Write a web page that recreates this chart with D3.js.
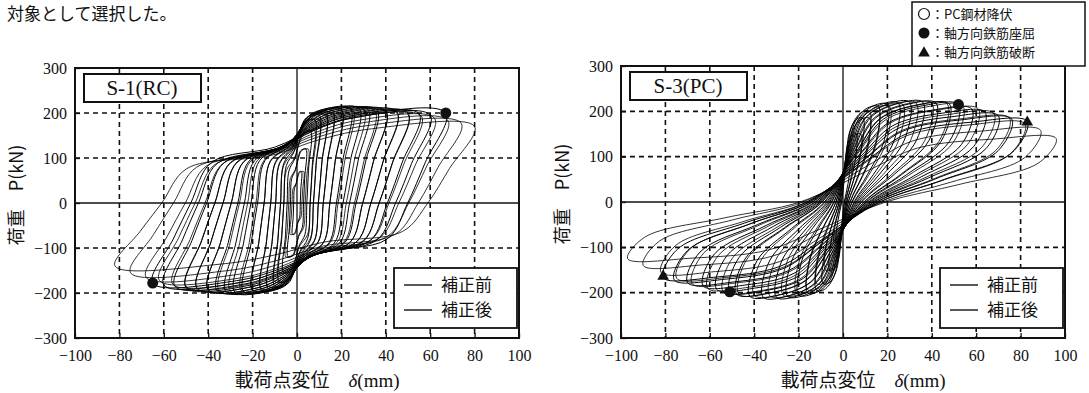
<!DOCTYPE html>
<html><head><meta charset="utf-8">
<script src="https://cdn.jsdelivr.net/npm/d3@7"></script>
<style>body{margin:0;background:#fff}svg{display:block}</style>
</head><body>
<svg id="c" width="1089" height="393"></svg>
<script>
// ---------- data ----------
const xTicks = [-100,-80,-60,-40,-20,0,20,40,60,80,100];
const yTicks = [-300,-200,-100,0,100,200,300];
const gridX = [-80,-60,-40,-20,20,40,60,80];
const gridY = [-200,-100,100,200];
const seriesNames = ["補正前","補正後"];
const markerNames = ["：PC鋼材降伏","：軸方向鉄筋座屈","：軸方向鉄筋破断"];
const titles = ["S-1(RC)","S-3(PC)"];

// S-1(RC) cycle peaks : positive displacement, positive load, negative displacement, negative load
const s1AfterDp = [2,4,6,8,10,13,16,20,24,28,32,36,40,45,50,55,60,67];
const s1AfterPp = [70,120,160,185,195,200,205,208,210,210,208,207,205,203,200,198,195,200];
const s1AfterDn = [-2,-4,-6,-8,-10,-13,-16,-20,-24,-28,-32,-36,-40,-45,-50,-55,-60,-65];
const s1AfterPn = [-70,-120,-155,-175,-185,-190,-193,-195,-197,-198,-197,-195,-193,-190,-188,-185,-182,-178];
const s1BeforeDp = [3,5,8,10,13,16,20,25,30,35,40,45,50,56,62,68,74,80];
const s1BeforePp = [70,120,160,185,195,200,205,208,208,205,203,200,197,193,188,183,177,170];
const s1BeforeDn = [-3,-5,-8,-10,-13,-16,-20,-25,-30,-35,-40,-45,-50,-56,-62,-68,-75,-82];
const s1BeforePn = [-70,-120,-155,-175,-185,-190,-193,-195,-196,-195,-193,-190,-185,-180,-172,-165,-155,-140];

// S-3(PC) cycle peaks
const s3AfterDp = [3,6,9,12,16,20,25,30,36,42,48,52,58,64,70,76,83];
const s3AfterPp = [90,150,185,200,210,215,218,220,220,218,216,215,205,198,190,183,178];
const s3AfterDn = [-3,-6,-9,-12,-16,-20,-25,-30,-36,-42,-48,-51,-57,-63,-70,-76,-81];
const s3AfterPn = [-90,-150,-180,-195,-200,-205,-208,-210,-210,-208,-203,-198,-192,-185,-178,-172,-167];
const s3BeforeDp = [4,8,12,16,21,27,33,40,47,54,61,68,75,82,89,96];
const s3BeforePp = [90,150,185,200,210,215,218,218,216,212,205,195,185,172,158,140];
const s3BeforeDn = [-4,-8,-12,-16,-21,-27,-33,-40,-47,-54,-61,-68,-75,-82,-90,-97];
const s3BeforePn = [-90,-150,-180,-193,-200,-205,-207,-206,-203,-198,-190,-180,-168,-155,-140,-125];

// event markers [delta, P]
const s1Buckle = [[67,200],[-65,-178]];
const s3Buckle = [[52,215],[-51,-198]];
const s3Rupture = [[83,176],[-81,-164]];

// ---------- drawing ----------
const svg = d3.select("#c");
const serif = "'Liberation Serif','Noto Sans CJK JP',serif";
const cjk = "'Noto Sans CJK JP','Liberation Serif',sans-serif";

svg.append("text").attr("x",7).attr("y",20).attr("font-family",cjk).attr("font-size",17)
  .attr("fill","#111").text("対象として選択した。");

function rcLoop(dp,Pp,dn,Pn){
  const s = dp-dn;
  return [[dn,Pn],[dn+0.07*s,Pn*0.45],[dn+0.13*s,0],[dn+0.2*s,Pp*0.45],[-0.15*dp,Pp*0.62],[0.13*dp,Pp*0.83],[0.42*dp,Pp*0.97],
          [dp,Pp],[dp-0.07*s,Pp*0.45],[dp-0.13*s,0],[dp-0.2*s,Pn*0.45],[-0.15*dn,Pn*0.62],[0.13*dn,Pn*0.83],[0.42*dn,Pn*0.97]];
}
function pcLoop(dp,Pp,dn,Pn){
  const s = dp-dn;
  return [[dn,Pn],[dn+0.04*s,Pn*0.62],[0.55*dn,Pn*0.28],[0.2*dn,0],[0.12*dp,Pp*0.5],[0.35*dp,Pp*0.85],[0.7*dp,Pp*0.99],
          [dp,Pp],[dp-0.04*s,Pp*0.62],[0.55*dp,Pp*0.28],[0.2*dp,0],[0.12*dn,Pn*0.5],[0.35*dn,Pn*0.85],[0.7*dn,Pn*0.99]];
}

function chart(cfg){
  const x = d3.scaleLinear().domain([-100,100]).range([cfg.left,cfg.right]);
  const y = d3.scaleLinear().domain([-300,300]).range([cfg.bottom,cfg.top]);
  const g = svg.append("g");
  const clipId = "clip"+cfg.id;
  svg.append("clipPath").attr("id",clipId).append("rect")
    .attr("x",cfg.left).attr("y",cfg.top).attr("width",cfg.right-cfg.left).attr("height",cfg.bottom-cfg.top);

  // grid
  g.selectAll(".gx").data(gridX).join("line").attr("x1",d=>x(d)).attr("x2",d=>x(d))
    .attr("y1",cfg.top).attr("y2",cfg.bottom).attr("stroke","#111").attr("stroke-width",1.6).attr("stroke-dasharray","5,4");
  g.selectAll(".gy").data(gridY).join("line").attr("y1",d=>y(d)).attr("y2",d=>y(d))
    .attr("x1",cfg.left).attr("x2",cfg.right).attr("stroke","#111").attr("stroke-width",1.6).attr("stroke-dasharray","5,4");
  g.append("line").attr("x1",x(0)).attr("x2",x(0)).attr("y1",cfg.top).attr("y2",cfg.bottom).attr("stroke","#111").attr("stroke-width",1.3);
  g.append("line").attr("y1",y(0)).attr("y2",y(0)).attr("x1",cfg.left).attr("x2",cfg.right).attr("stroke","#111").attr("stroke-width",1.3);

  // loops
  const line = d3.line().x(d=>x(d[0])).y(d=>y(d[1])).curve(d3.curveCatmullRomClosed.alpha(0.5));
  const lg = g.append("g").attr("clip-path",`url(#${clipId})`);
  cfg.series.forEach((s,si)=>{
    const loops = s.dp.map((d,i)=>cfg.loop(d,s.pp[i],s.dn[i],s.pn[i]));
    lg.append("g").selectAll("path").data(loops).join("path")
      .attr("d",line).attr("fill","none").attr("stroke","#000").attr("stroke-width",si===0?0.8:1.0);
  });

  // axes
  const ax = d3.axisBottom(x).tickValues(xTicks).tickSizeInner(-5).tickSizeOuter(0).tickPadding(12).tickFormat(d3.format("d"));
  const ay = d3.axisLeft(y).tickValues(yTicks).tickSizeInner(-5).tickSizeOuter(0).tickPadding(12).tickFormat(d3.format("d"));
  const gx = g.append("g").attr("transform",`translate(0,${cfg.bottom})`).call(ax);
  const gy = g.append("g").attr("transform",`translate(${cfg.left},0)`).call(ay);
  [gx,gy].forEach(a=>{
    a.select(".domain").remove();
    a.selectAll("line").attr("stroke","#111").attr("stroke-width",1.3);
    a.selectAll("text").attr("font-family",serif).attr("font-size",16).attr("fill","#111");
  });
  gy.selectAll("text").attr("dx",4);

  // frame
  g.append("rect").attr("x",cfg.left).attr("y",cfg.top).attr("width",cfg.right-cfg.left).attr("height",cfg.bottom-cfg.top)
    .attr("fill","none").attr("stroke","#111").attr("stroke-width",2);

  // markers
  const sym = d3.symbol();
  g.selectAll(".bk").data(cfg.buckle).join("circle").attr("cx",d=>x(d[0])).attr("cy",d=>y(d[1])).attr("r",5.5).attr("fill","#111");
  g.selectAll(".rp").data(cfg.rupture).join("path")
    .attr("transform",d=>`translate(${x(d[0])},${y(d[1])})`).attr("d",sym.type(d3.symbolTriangle).size(60)()).attr("fill","#111");

  // title box
  g.append("rect").attr("x",cfg.left+9).attr("y",cfg.top+6).attr("width",117).attr("height",28)
    .attr("fill","#fff").attr("stroke","#111").attr("stroke-width",2);
  g.append("text").attr("x",cfg.left+67).attr("y",cfg.top+27).attr("text-anchor","middle")
    .attr("font-family",serif).attr("font-size",21).attr("fill","#111").text(cfg.title);

  // legend box
  const lx = cfg.right-125, ly = cfg.bottom-70;
  g.append("rect").attr("x",lx).attr("y",ly).attr("width",123).attr("height",60)
    .attr("fill","#fff").attr("stroke","#111").attr("stroke-width",1.8);
  seriesNames.forEach((n,i)=>{
    const yy = ly+17+i*25;
    g.append("line").attr("x1",lx+10).attr("x2",lx+38).attr("y1",yy).attr("y2",yy).attr("stroke","#111").attr("stroke-width",1.4);
    g.append("text").attr("x",lx+47).attr("y",yy+6).attr("font-family",cjk).attr("font-size",17).attr("fill","#111").text(n);
  });

  // axis titles
  svg.append("text").attr("transform",`translate(${cfg.ylabX},${(cfg.top+cfg.bottom)/2-8}) rotate(-90)`)
    .attr("text-anchor","middle").attr("font-family",cjk).attr("font-size",18).attr("fill","#111")
    .text("荷重　P(kN)");
  const xl = svg.append("text").attr("x",(cfg.left+cfg.right)/2+20).attr("y",387).attr("text-anchor","middle")
    .attr("font-family",cjk).attr("font-size",19).attr("fill","#111");
  xl.append("tspan").text("載荷点変位　");
  xl.append("tspan").attr("font-family",serif).attr("font-style","italic").text("δ");
  xl.append("tspan").attr("font-family",serif).text("(mm)");
}

chart({id:1,left:75,right:519,top:68,bottom:338,ylabX:23,title:titles[0],loop:rcLoop,
  series:[{dp:s1BeforeDp,pp:s1BeforePp,dn:s1BeforeDn,pn:s1BeforePn},{dp:s1AfterDp,pp:s1AfterPp,dn:s1AfterDn,pn:s1AfterPn}],
  buckle:s1Buckle,rupture:[]});
chart({id:3,left:621,right:1065,top:66,bottom:338,ylabX:569,title:titles[1],loop:pcLoop,
  series:[{dp:s3BeforeDp,pp:s3BeforePp,dn:s3BeforeDn,pn:s3BeforePn},{dp:s3AfterDp,pp:s3AfterPp,dn:s3AfterDn,pn:s3AfterPn}],
  buckle:s3Buckle,rupture:s3Rupture});

// marker legend (top right)
const mg = svg.append("g");
mg.append("rect").attr("x",912).attr("y",2).attr("width",173).attr("height",64).attr("fill","#fff").attr("stroke","#111").attr("stroke-width",1.5);
const my = [14,33,52];
mg.append("circle").attr("cx",924).attr("cy",my[0]).attr("r",5.5).attr("fill","#fff").attr("stroke","#111").attr("stroke-width",1.2);
mg.append("circle").attr("cx",924).attr("cy",my[1]).attr("r",5.5).attr("fill","#111");
mg.append("path").attr("transform",`translate(924,${my[2]+1})`).attr("d",d3.symbol().type(d3.symbolTriangle).size(60)()).attr("fill","#111");
markerNames.forEach((n,i)=>{
  mg.append("text").attr("x",931).attr("y",my[i]+5).attr("font-family",cjk).attr("font-size",13).attr("fill","#111").text(n);
});
</script>
</body></html>
